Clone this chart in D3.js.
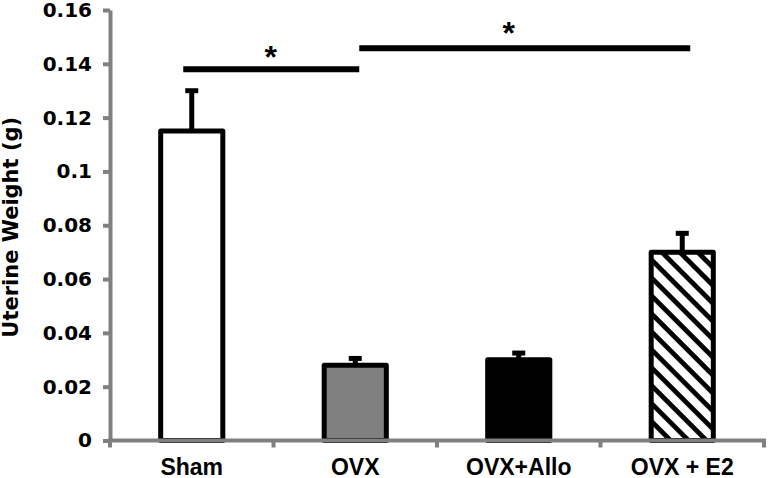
<!DOCTYPE html>
<html>
<head>
<meta charset="utf-8">
<script src="https://cdn.jsdelivr.net/npm/d3@7"></script>
<style>
  body { margin: 0; background: #fff; }
  svg { display: block; }
</style>
</head>
<body>
<script>
// groups and values
var groups = [ 'Sham', 'OVX', 'OVX+Allo', 'OVX + E2' ];
var means = [ 0.115, 0.028, 0.030, 0.070 ];
var errors = [ 0.015, 0.0025, 0.0025, 0.007 ];
var fills = [ '#ffffff', '#808080', '#000000', 'hatch' ];
var yTicks = [ 0, 0.02, 0.04, 0.06, 0.08, 0.1, 0.12, 0.14, 0.16 ];
// significance brackets: from group, to group, level
var sigFrom = [ 'Sham', 'OVX' ];
var sigTo = [ 'OVX', 'OVX + E2' ];
var sigLevel = [ 0.138, 0.1458 ];

var W = 768, H = 478;
var plotL = 110, plotR = 764, plotT = 10, plotB = 440.5;

var svg = d3.select( 'body' ).append( 'svg' )
  .attr( 'width', W )
  .attr( 'height', H );

// diagonal hatch for the last bar
svg.append( 'defs' ).append( 'pattern' )
  .attr( 'id', 'hatch' )
  .attr( 'patternUnits', 'userSpaceOnUse' )
  .attr( 'width', 12.7 )
  .attr( 'height', 12.7 )
  .attr( 'patternTransform', 'rotate(45)' )
  .append( 'rect' )
  .attr( 'width', 12.7 )
  .attr( 'height', 4.8 )
  .attr( 'fill', '#000' );

var x = d3.scaleBand().domain( groups ).range( [ plotL, plotR ] ).padding( 0 );
var y = d3.scaleLinear().domain( [ 0, 0.16 ] ).range( [ plotB, plotT ] );
var barW = x.bandwidth() * 0.38;
var cx = function( g ) { return x( g ) + x.bandwidth() / 2; };

// y axis
var yAxis = svg.append( 'g' )
  .attr( 'transform', 'translate(' + plotL + ',0)' )
  .call( d3.axisLeft( y ).tickValues( yTicks ).tickFormat( d3.format( '~g' ) )
    .tickSizeInner( 7 ).tickSizeOuter( 0 ).tickPadding( 11 ) );
yAxis.select( '.domain' ).attr( 'stroke', '#808080' ).attr( 'stroke-width', 4 );
yAxis.selectAll( '.tick line' ).attr( 'stroke', '#808080' ).attr( 'stroke-width', 4 );
yAxis.selectAll( '.tick text' )
  .attr( 'fill', '#000' )
  .style( 'font-family', '"DejaVu Sans", sans-serif' )
  .style( 'font-weight', 'bold' )
  .style( 'font-size', '20px' );

// bars
svg.selectAll( 'rect.bar' )
  .data( means )
  .enter()
  .append( 'rect' )
  .attr( 'class', 'bar' )
  .attr( 'x', function( d, i ) { return cx( groups[i] ) - barW / 2; } )
  .attr( 'y', function( d ) { return y( d ); } )
  .attr( 'width', barW )
  .attr( 'height', function( d ) { return y( 0 ) - y( d ); } )
  .attr( 'fill', function( d, i ) { return fills[i] == 'hatch' ? 'url(#hatch)' : fills[i]; } )
  .attr( 'stroke', '#000' )
  .attr( 'stroke-width', 5 )
  .attr( 'stroke-linejoin', 'round' );

// upper error bars
var err = svg.selectAll( 'g.err' )
  .data( means )
  .enter()
  .append( 'g' )
  .attr( 'class', 'err' );
err.append( 'line' )
  .attr( 'x1', function( d, i ) { return cx( groups[i] ); } )
  .attr( 'x2', function( d, i ) { return cx( groups[i] ); } )
  .attr( 'y1', function( d ) { return y( d ); } )
  .attr( 'y2', function( d, i ) { return y( d + errors[i] ); } )
  .attr( 'stroke', '#000' )
  .attr( 'stroke-width', 5 );
err.append( 'line' )
  .attr( 'x1', function( d, i ) { return cx( groups[i] ) - 6.5; } )
  .attr( 'x2', function( d, i ) { return cx( groups[i] ) + 6.5; } )
  .attr( 'y1', function( d, i ) { return y( d + errors[i] ); } )
  .attr( 'y2', function( d, i ) { return y( d + errors[i] ); } )
  .attr( 'stroke', '#000' )
  .attr( 'stroke-width', 5 );

// x axis: gray line, ticks on the group boundaries, labels under the centres
var xAxis = svg.append( 'g' )
  .attr( 'transform', 'translate(0,' + plotB + ')' )
  .call( d3.axisBottom( x ).tickSize( 0 ).tickPadding( 18 ) );
xAxis.select( '.domain' ).remove();
xAxis.selectAll( '.tick text' )
  .attr( 'fill', '#000' )
  .style( 'font-family', '"Liberation Sans", Arial, sans-serif' )
  .style( 'font-weight', 'bold' )
  .style( 'font-size', '23px' );
xAxis.append( 'line' )
  .attr( 'x1', plotL - 2 ).attr( 'x2', plotR + 2 )
  .attr( 'stroke', '#808080' ).attr( 'stroke-width', 4 );
xAxis.selectAll( 'line.bound' )
  .data( d3.range( groups.length + 1 ) )
  .enter()
  .append( 'line' )
  .attr( 'class', 'bound' )
  .attr( 'x1', function( i ) { return plotL + i * x.step(); } )
  .attr( 'x2', function( i ) { return plotL + i * x.step(); } )
  .attr( 'y1', 0 ).attr( 'y2', 7 )
  .attr( 'stroke', '#808080' ).attr( 'stroke-width', 4 );

// y axis title
svg.append( 'text' )
  .attr( 'transform', 'translate(18,' + ( ( plotT + plotB ) / 2 + 2 ) + ') rotate(-90)' )
  .attr( 'text-anchor', 'middle' )
  .style( 'font-family', '"DejaVu Sans", sans-serif' )
  .style( 'font-weight', 'bold' )
  .style( 'font-size', '21px' )
  .text( 'Uterine Weight (g)' );

// significance lines and stars
var sigX1 = [ cx( sigFrom[0] ) - 8.5, cx( sigFrom[1] ) + 4 ];
var sigX2 = [ cx( sigTo[0] ) + 4, cx( sigTo[1] ) + 8 ];
var starDx = [ -0.5, -16 ];
var starDy = [ -1, -4 ];
svg.selectAll( 'line.sig' )
  .data( sigLevel )
  .enter()
  .append( 'line' )
  .attr( 'class', 'sig' )
  .attr( 'x1', function( d, i ) { return sigX1[i]; } )
  .attr( 'x2', function( d, i ) { return sigX2[i]; } )
  .attr( 'y1', function( d ) { return y( d ); } )
  .attr( 'y2', function( d ) { return y( d ); } )
  .attr( 'stroke', '#000' )
  .attr( 'stroke-width', 6 );
svg.selectAll( 'text.star' )
  .data( sigLevel )
  .enter()
  .append( 'text' )
  .attr( 'class', 'star' )
  .attr( 'x', function( d, i ) { return ( sigX1[i] + sigX2[i] ) / 2 + starDx[i]; } )
  .attr( 'y', function( d, i ) { return y( d ) + starDy[i]; } )
  .attr( 'text-anchor', 'middle' )
  .style( 'font-family', '"Liberation Sans", Arial, sans-serif' )
  .style( 'font-weight', 'bold' )
  .style( 'font-size', '32px' )
  .text( '*' );
</script>
</body>
</html>
